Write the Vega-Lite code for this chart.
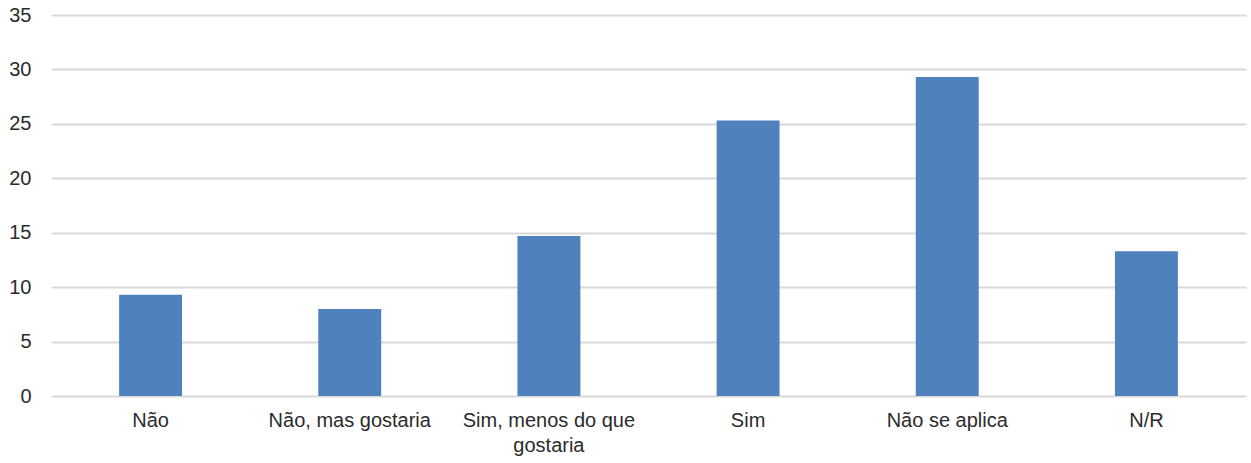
{
  "$schema": "https://vega.github.io/schema/vega-lite/v6.json",
  "autosize": {"type": "none"},
  "width": 1195,
  "height": 381,
  "padding": {"left": 51, "top": 15, "right": 5, "bottom": 67},
  "background": "#ffffff",
  "config": {
    "view": {"stroke": null},
    "font": "Liberation Sans"
  },
  "data": {
    "values": [
      {"resposta": "Não", "valor": 9.3},
      {"resposta": "Não, mas gostaria", "valor": 8.0},
      {"resposta": "Sim, menos do que gostaria", "valor": 14.7},
      {"resposta": "Sim", "valor": 25.3},
      {"resposta": "Não se aplica", "valor": 29.3},
      {"resposta": "N/R", "valor": 13.3}
    ]
  },
  "layer": [
    {
      "mark": {"type": "bar", "color": "#4f81bd"},
      "encoding": {
        "x": {
          "field": "resposta",
          "type": "nominal",
          "sort": null,
          "scale": {"paddingInner": 0.684, "paddingOuter": 0.342},
          "axis": {
            "title": null,
            "labelAngle": 0,
            "labelFontSize": 20,
            "labelColor": "#2b2b2b",
            "labelPadding": 14,
            "labelLineHeight": 25,
            "labelLimit": 0,
            "labelExpr": "datum.label == 'Sim, menos do que gostaria' ? ['Sim, menos do que', 'gostaria'] : datum.label",
            "ticks": false,
            "domain": false
          }
        },
        "y": {
          "field": "valor",
          "type": "quantitative",
          "scale": {"domain": [0, 35], "nice": false},
          "axis": {
            "title": null,
            "values": [0, 5, 10, 15, 20, 25, 30, 35],
            "labelFontSize": 20,
            "labelColor": "#2b2b2b",
            "labelPadding": 20,
            "ticks": false,
            "domain": false,
            "gridColor": "#d9d9d9",
            "gridWidth": 2,
            "zindex": 0
          }
        }
      }
    }
  ]
}
